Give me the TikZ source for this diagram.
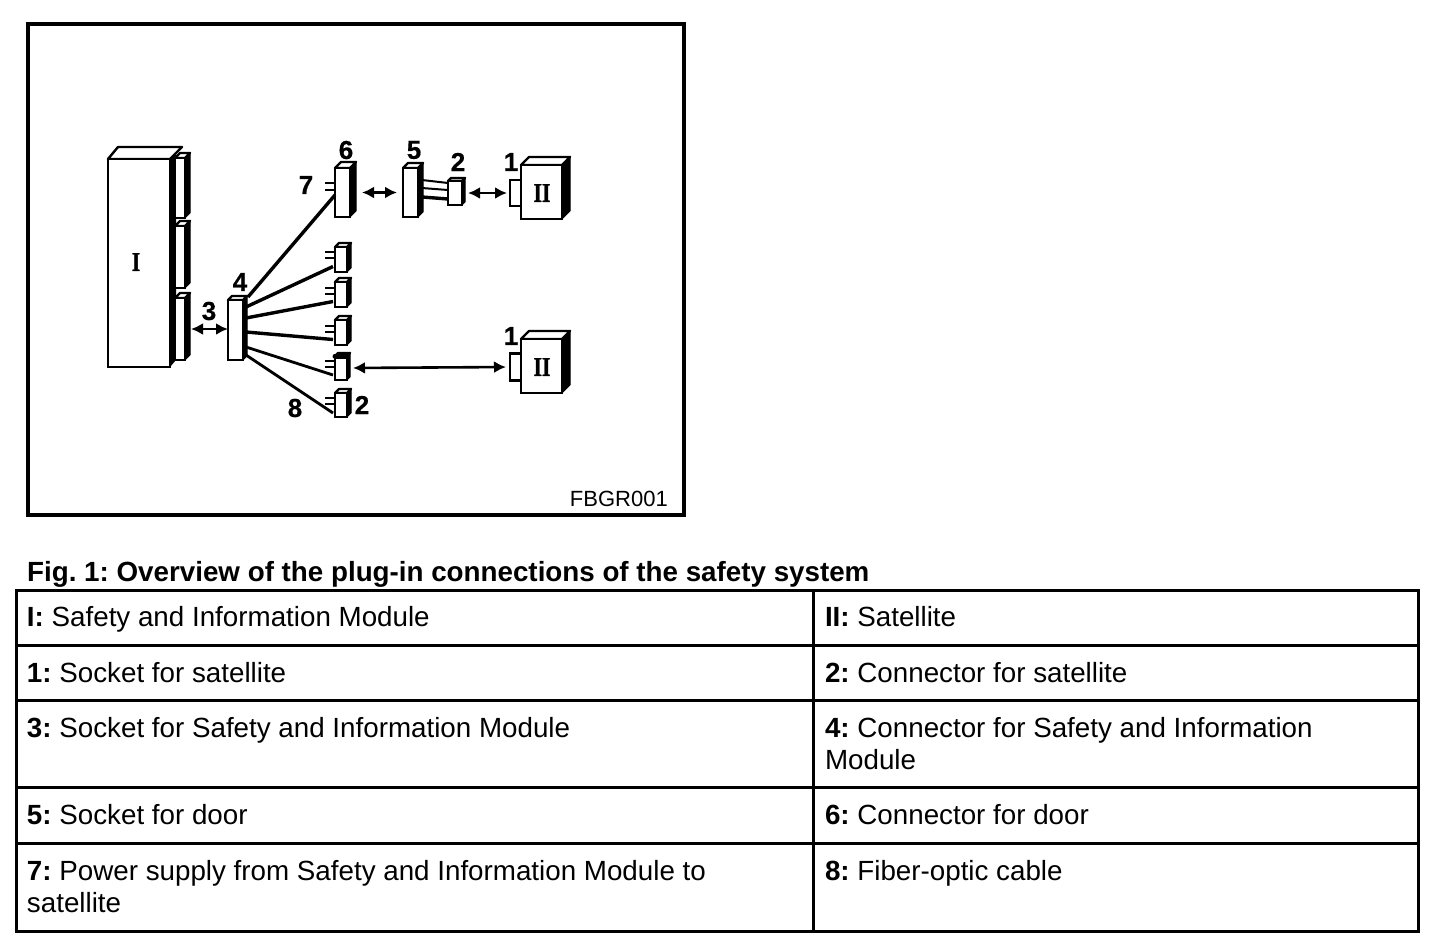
\documentclass[tikz,border=0pt]{standalone}
\usepackage{fontspec}
\setmainfont{Liberation Sans}
\newfontfamily\serifbold{Liberation Serif}[FakeStretch=0.8,FakeBold=1.2]
\newfontfamily\numfont{Liberation Sans}[FakeBold=0.6]
\usetikzlibrary{arrows.meta,calc}
\newcommand{\cellfont}{\fontsize{27.76}{32}\selectfont}
\frenchspacing
\tikzset{
  x=1pt,y=-1pt,
  frameline/.style={line width=4pt,draw=black},
  gridline/.style={line width=3pt,draw=black},
  cell/.style={anchor=north west,inner sep=0pt,outer sep=0pt,align=left,font=\cellfont},
  caption/.style={anchor=base west,inner sep=0pt,font=\fontsize{27.76}{32}\selectfont\bfseries},
  num/.style={inner sep=0pt,font=\fontsize{26}{26}\selectfont\numfont\bfseries},
  roman/.style={inner sep=0pt,font=\fontsize{27}{27}\selectfont\serifbold\bfseries},
  code/.style={anchor=base east,inner sep=0pt,font=\fontsize{22}{22}\selectfont},
  face/.style={draw=black,fill=white,line width=2.6pt,inner sep=0pt,outer sep=0pt},
  topface/.style={draw=black,fill=white,line width=2.4pt,line join=round},
  dbl/.style={{Latex[length=12pt,width=12pt]}-{Latex[length=12pt,width=12pt]},line width=2.6pt},
  fiber/.style={line width=3.4pt},
  thinfiber/.style={line width=2.8pt},
  pin/.style={line width=2pt},
}
% name, left, top, right, bottom, depth
\newcommand{\solid}[6]{%
  \fill[black,draw=black,line width=1pt] (#4,#3) -- ++(#6,-#6) -- ({#4+#6},{#5-#6}) -- (#4,#5) -- cycle;
  \draw[topface] (#2,#3) -- ++(#6,-#6) -- ({#4+#6},{#3-#6}) -- (#4,#3) -- cycle;
  \node[face,minimum width={(#4-#2)*1pt},minimum height={(#5-#3)*1pt}] (#1) at ({(#2+#4)/2},{(#3+#5)/2}) {};
}
% two pins on a plug: name, y1, y2
\newcommand{\pins}[3]{%
  \draw[pin] (#1.west |- 0,#2) -- ++(-10,0);
  \draw[pin] (#1.west |- 0,#3) -- ++(-10,0);
}
\begin{document}
\begin{tikzpicture}
\useasboundingbox (0,0) rectangle (1440,946);
\fill[white] (0,0) rectangle (1440,946);
% frame
\node[frameline,draw,inner sep=0pt,minimum width=656pt,minimum height=491pt] (frame) at (356,269) {};
\node[code] (figcode) at (668,506) {FBGR001};
% module
\fill[black] (168,159) -- (176,152) -- (176,360) -- (170,367) -- cycle;
\solid{plateA}{175}{158}{185}{218}{5}
\solid{plateB}{175}{226}{185}{288}{5}
\solid{plateC}{175}{298}{185}{360}{5}
\draw[topface] (108,159) -- (118,147) -- (182,147) -- (170,159) -- cycle;
\node[face,minimum width=62pt,minimum height=208pt] (module) at (139,263) {};
\node[roman] (labI) at (136,262) {I};
% central connector
\solid{cfour}{228}{300}{243}{360}{4}
% door connector pair
\solid{csix}{335}{168}{350}{217}{6}
\solid{cfive}{403}{168}{418}{217}{5}
\solid{ctwo}{448}{181}{462}{205}{3}
\pins{csix}{183}{190}
\draw[pin] (cfive.east |- 0,180) ++(4,0) -- (ctwo.west |- 0,183);
\draw[pin] (cfive.east |- 0,188) ++(4,0) -- (ctwo.west |- 0,190);
\draw[fiber] (cfive.east |- 0,197) ++(4,0) -- (ctwo.west |- 0,199);
% plugs
\solid{kA}{335}{247}{347}{272}{4}
\solid{kB}{335}{282}{347}{307}{4}
\solid{kC}{335}{320}{347}{345}{4}
\solid{kD}{335}{356}{347}{380}{3}
\draw[line width=5pt,line cap=round] (kD.north west) -- (kD.north east);
\solid{kE}{335}{393}{347}{417}{4}
\pins{kA}{252}{258}
\pins{kB}{288}{294}
\pins{kC}{326}{332}
\pins{kD}{361}{367}
\pins{kE}{398}{404}
% satellites
\solid{satA}{521}{165}{562}{219}{8}
\node[face] (sockA) at (515.5,193) [minimum width=11pt,minimum height=26pt] {};
\node[roman] (labIIa) at (542,193) {II};
\solid{satB}{521}{339}{562}{393}{8}
\node[face] (sockB) at (515.5,367) [minimum width=11pt,minimum height=27pt] {};
\node[roman] (labIIb) at (542,367) {II};
% fibers
\draw[fiber] ($(cfour.east)+(5,-33)$) -- ($(csix.west)+(0,2.5)$);
\draw[fiber] ($(cfour.east)+(3,-23)$) -- ($(kA.west)+(-2,7)$);
\draw[fiber] ($(cfour.east)+(3,-12)$) -- ($(kB.west)+(-2,7)$);
\draw[fiber] ($(cfour.east)+(3,2)$) -- ($(kC.west)+(-2,7)$);
\draw[thinfiber] ($(cfour.east)+(3,17)$) -- ($(kD.west)+(-2,7)$);
\draw[thinfiber] ($(cfour.east)+(3,25)$) -- ($(kE.west)+(-2,8)$);
% arrows
\draw[dbl] (plateC.east) ++(6,0) -- (plateC.east -| cfour.west);
\draw[dbl,shorten <=12pt,shorten >=6pt] (csix.east) -- (cfive.west);
\draw[dbl,shorten <=6pt,shorten >=3pt] (ctwo.east) -- (sockA.west);
\draw[dbl,shorten <=6pt,shorten >=4pt] (kD.east) -- (sockB.west);
% numbers
\node[num] (nthree) at (209,311) {3};
\node[num] (nfour) at (240,282) {4};
\node[num] (nsix) at (346,150) {6};
\node[num] (nseven) at (306,185) {7};
\node[num] (nfive) at (414,150) {5};
\node[num] (ntwoa) at (458,162) {2};
\node[num] (nonea) at (511,162) {1};
\node[num] (noneb) at (511,336) {1};
\node[num] (ntwob) at (362,405) {2};
\node[num] (neight) at (295,408) {8};
% caption
\node[caption] (cap) at (27,581) {Fig. 1: Overview of the plug-in connections of the safety system};
% table
\draw[gridline] (16,590) rectangle (1418,931);
\foreach \yy in {645,700,787,843} \draw[gridline] (16,\yy) -- (1418,\yy);
\draw[gridline] (813,590) -- (813,931);
\node[cell] (ca) at (27,606) {\textbf{I:} Safety and Information Module};
\node[cell] (cb) at (825,606) {\textbf{II:} Satellite};
\node[cell] (cc) at (27,662) {\textbf{1:} Socket for satellite};
\node[cell] (cd) at (825,662) {\textbf{2:} Connector for satellite};
\node[cell] (ce) at (27,717) {\textbf{3:} Socket for Safety and Information Module};
\node[cell] (cf) at (825,717) {\textbf{4:} Connector for Safety and Information\\Module};
\node[cell] (cg) at (27,804) {\textbf{5:} Socket for door};
\node[cell] (ch) at (825,804) {\textbf{6:} Connector for door};
\node[cell] (ci) at (27,860) {\textbf{7:} Power supply from Safety and Information Module to\\satellite};
\node[cell] (cj) at (825,860) {\textbf{8:} Fiber-optic cable};
\end{tikzpicture}
\end{document}
